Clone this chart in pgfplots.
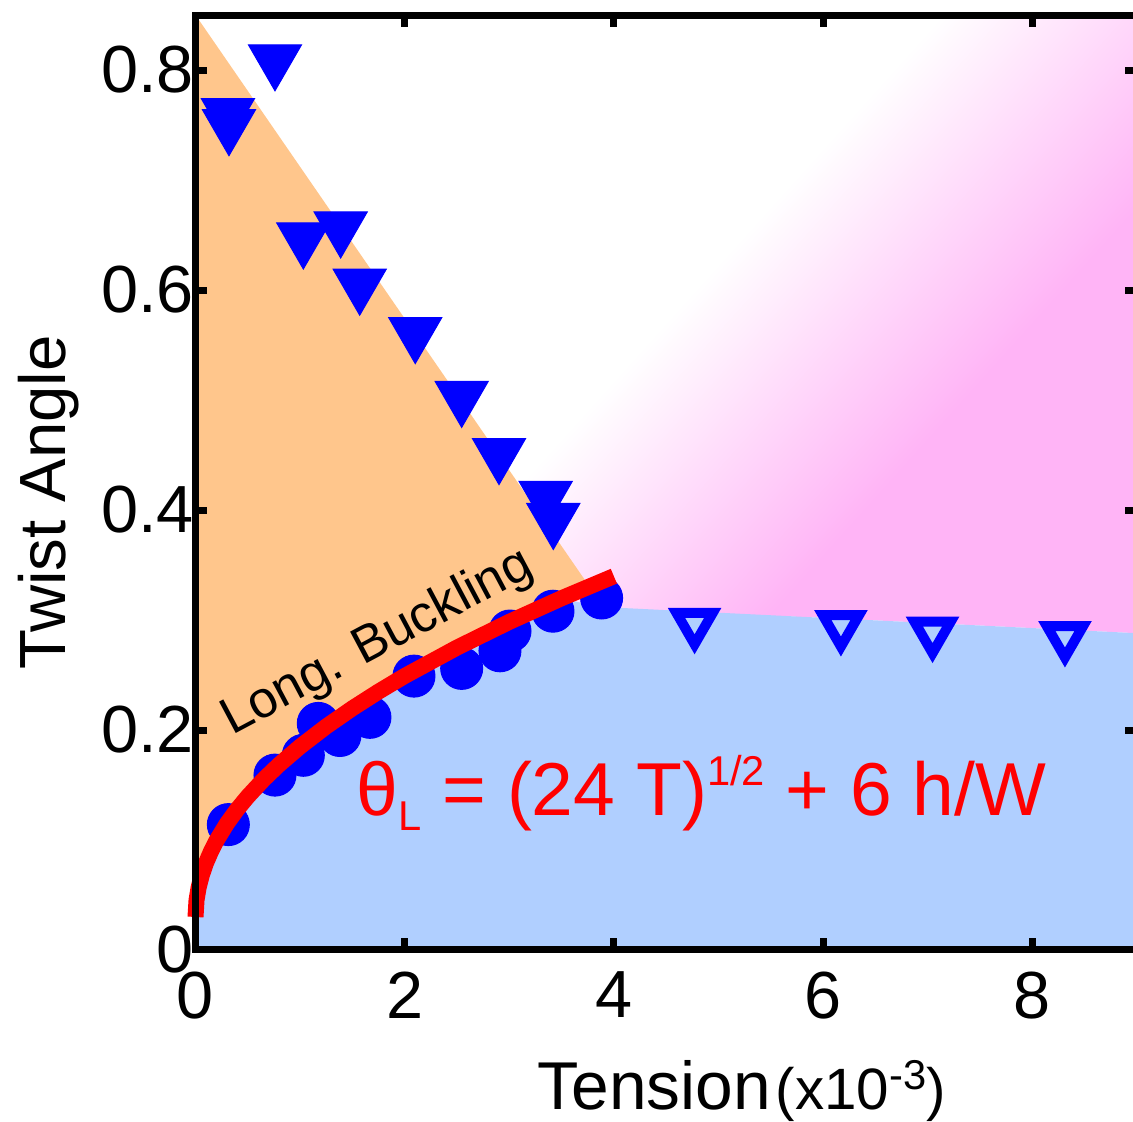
\documentclass[border=0pt]{standalone}
\usepackage{fontspec}
\setmainfont{Liberation Sans}
\usepackage{pgfplots}
\pgfplotsset{compat=1.18}
\definecolor{orangec}{RGB}{255,198,140}
\definecolor{bluec}{RGB}{176,207,255}
\definecolor{pinkc}{RGB}{255,180,246}
\pgfdeclareverticalshading{pinkfade}{100bp}{color(0bp)=(pinkc); color(34bp)=(pinkc); color(51bp)=(white); color(100bp)=(white)}
\begin{document}
\begin{tikzpicture}
\begin{axis}[name=ax, scale only axis, width=282.4pt, height=280.5pt,
  xmin=0, xmax=9, ymin=0, ymax=0.85,
  axis on top, clip=false, clip marker paths=true,
  axis line style={line width=2.1pt},
  tick style={line width=2.1pt, black}, major tick length=3.6pt, tick align=inside,
  xtick={0,2,4,6,8}, ytick={0,0.2,0.4,0.6,0.8},
  xticklabels={0,2,4,6,8}, yticklabels={0,0.2,0.4,0.6,0.8},
  tick label style={font=\fontsize{20}{22}\selectfont},
  xticklabel style={yshift=-3pt}, yticklabel style={xshift=3pt},
  /pgf/number format/assume math mode=true,
]
% pink (gradient) region
\addplot[draw=none, shade, shading=pinkfade, shading angle=48] coordinates {(0,0.85) (9,0.85) (9,0.288) (6,0.302) (3.85,0.31) (0,0.25)} -- cycle;
% orange region
\addplot[draw=none, fill=orangec] coordinates {(0,0.85) (3.82,0.323) (3.5,0.3198) (3.0,0.2983) (2.5,0.2749) (2.0,0.2491) (1.75,0.2349) (1.5,0.2197) (1.25,0.2032) (1.0,0.1849) (0.8,0.1686) (0.65,0.1549) (0.5,0.1395) (0.4,0.128) (0.3,0.1149) (0.2,0.0993) (0.15,0.09) (0.1,0.079) (0.06,0.0679) (0.03,0.0568) (0.01,0.0455) (0,0.03)} -- cycle;
% blue region
\addplot[draw=none, fill=bluec] coordinates {(0,0) (0,0.03) (0.01,0.0455) (0.03,0.0568) (0.06,0.0679) (0.1,0.079) (0.15,0.09) (0.2,0.0993) (0.3,0.1149) (0.4,0.128) (0.5,0.1395) (0.65,0.1549) (0.8,0.1686) (1.0,0.1849) (1.25,0.2032) (1.5,0.2197) (1.75,0.2349) (2.0,0.2491) (2.5,0.2749) (3.0,0.2983) (3.5,0.3198) (3.85,0.312) (6,0.302) (9,0.288) (9,0)} -- cycle;
% circles
\addplot[only marks, mark=*, mark size=6.3pt, mark options={fill=blue, draw=blue, line width=0.3pt}] coordinates {(0.314,0.114) (0.760,0.159) (1.031,0.177) (1.174,0.206) (1.381,0.195) (1.668,0.2115) (2.089,0.249) (2.545,0.256) (2.911,0.272) (3.007,0.290) (3.418,0.308) (3.883,0.320)};
% theory curve
\addplot[red, line width=4.8pt, line cap=butt] coordinates {(0,0.03) (0.01,0.0455) (0.03,0.0568) (0.06,0.0679) (0.1,0.079) (0.15,0.09) (0.2,0.0993) (0.3,0.1149) (0.4,0.128) (0.5,0.1395) (0.65,0.1549) (0.8,0.1686) (1.0,0.1849) (1.25,0.2032) (1.5,0.2197) (1.75,0.2349) (2.0,0.2491) (2.5,0.2749) (3.0,0.2983) (3.5,0.3198) (4.0,0.3398)};
% filled triangles
\addplot[only marks, mark=triangle*, mark size=9.2pt, mark options={rotate=180, fill=blue, draw=blue, line width=0.3pt}] coordinates {(0.760,0.809) (0.31,0.760) (0.32,0.750) (1.031,0.647) (1.388,0.657) (1.570,0.605) (2.101,0.561) (2.545,0.503) (2.902,0.451) (3.348,0.412) (3.421,0.392)};
% open triangles
\addplot[only marks, mark=triangle, mark size=6.3pt, mark options={rotate=180, draw=blue, line width=3pt, line join=miter}] coordinates {(4.772,0.297) (6.171,0.295) (7.047,0.289) (8.313,0.285)};
\node[rotate=28, font=\fontsize{15.5}{18}\selectfont] at (axis cs:1.74,0.279) {Long. Buckling};
\node[anchor=base west, text=red, inner sep=0pt, font=\fontsize{22.5}{26}\selectfont] at (axis cs:1.535,0.1227) {θ\raisebox{-4.5pt}{\fontsize{12.5}{14}\selectfont L} = (24 T)\raisebox{9pt}{\fontsize{12.5}{14}\selectfont 1/2} + 6 h/W};
\node[anchor=base west, inner sep=0pt, font=\fontsize{20.3}{22}\selectfont] at (axis description cs:0.3628,-0.171) {Tension\kern1.5pt{\fontsize{17.5}{20}\selectfont(x10\raisebox{6pt}{\fontsize{12.5}{13}\selectfont -3})}};
\node[rotate=90, anchor=base, inner sep=0pt, font=\fontsize{19.6}{22}\selectfont] at (axis description cs:-0.1386,0.479) {Twist Angle};
\end{axis}
\pgfresetboundingbox
\path ([shift={(-58.65pt,-51.6pt)}]ax.south west) rectangle ([shift={(281.25pt,285pt)}]ax.south west);
\end{tikzpicture}
\end{document}
